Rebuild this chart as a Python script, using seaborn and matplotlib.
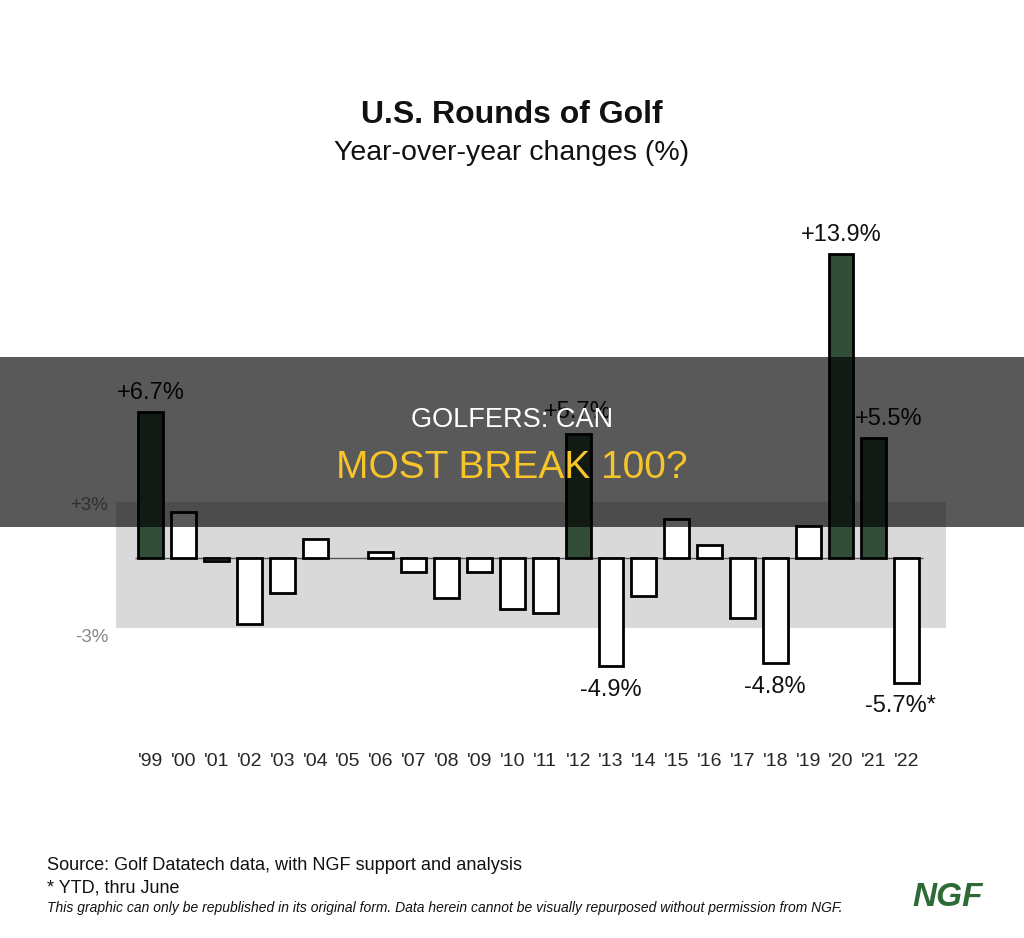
import matplotlib
matplotlib.use("Agg")
import matplotlib.pyplot as plt
import seaborn as sns
import pandas as pd
from matplotlib.patches import Rectangle

years = ["'99", "'00", "'01", "'02", "'03", "'04", "'05", "'06", "'07", "'08", "'09", "'10",
         "'11", "'12", "'13", "'14", "'15", "'16", "'17", "'18", "'19", "'20", "'21", "'22"]
change = [6.7, 2.1, -0.1, -3.0, -1.6, 0.9, 0.0, 0.3, -0.6, -1.8, -0.6, -2.3,
          -2.5, 5.7, -4.9, -1.7, 1.8, 0.6, -2.7, -4.8, 1.5, 13.9, 5.5, -5.7]
highlight = ["'99", "'12", "'20", "'21"]
labels = {"'99": "+6.7%", "'12": "+5.7%", "'20": "+13.9%", "'21": "+5.5%",
          "'13": "-4.9%", "'18": "-4.8%", "'22": "-5.7%*"}

df = pd.DataFrame({"year": years, "change": change})
green = "#2d5236"
palette = {y: (green if y in highlight else "white") for y in years}

sns.set_style("white")
plt.rcParams["font.family"] = ["Liberation Sans", "DejaVu Sans"]

fig = plt.figure(figsize=(10.24, 9.38), dpi=100)
ax = fig.add_axes([0.0993, 0.218, 0.8343, 0.560])

# grey band behind the bars
ax.fill_between([-1.05, 24.2], -3.17, 2.58, color="#d9d9d9", lw=0, zorder=0)
ax.hlines(0, -0.5, 23.5, color="#555555", lw=1, zorder=1)

sns.barplot(data=df, x="year", y="change", hue="year", palette=palette, legend=False,
            order=years, width=0.76, edgecolor="black", linewidth=2, ax=ax, zorder=2)

# no outline for a flat (0.0) year
for p in ax.patches:
    if hasattr(p, "get_height") and p.get_height() == 0:
        p.set_linewidth(0)

ax.set_xlim(-1.5, 24.5)
ax.set_ylim(-8, 16)
ax.set_yticks([])
ax.set_xlabel("")
ax.set_ylabel("")
ax.tick_params(axis="x", length=0, pad=14, labelsize=14)
for s in ax.spines.values():
    s.set_visible(False)
ax.patch.set_alpha(0)

offsets = {"'99": (0, 19), "'12": (0, 22), "'20": (0, 19), "'21": (15, 19),
           "'13": (0, -24), "'18": (0, -24), "'22": (-6, -23)}
for y, txt in labels.items():
    i = years.index(y)
    v = change[i]
    dx, dy = offsets[y]
    ax.annotate(txt, (i, v), xytext=(dx, dy), textcoords="offset pixels",
                ha="center", va="center", fontsize=17, color="#111111")

ax.text(-1.3, 2.4, "+3%", ha="right", va="center", fontsize=13.5, color="#888888")
ax.text(-1.3, -3.6, "-3%", ha="right", va="center", fontsize=13.5, color="#888888")

fig.text(0.5, 1 - 115 / 938, "U.S. Rounds of Golf", ha="center", va="center",
         fontsize=23, fontweight="bold", color="#111111")
fig.text(0.5, 1 - 153 / 938, "Year-over-year changes (%)", ha="center", va="center",
         fontsize=20.5, color="#111111")

fig.text(47 / 1024, 1 - 866 / 938, "Source: Golf Datatech data, with NGF support and analysis",
         ha="left", va="center", fontsize=13.1, color="#111111")
fig.text(47 / 1024, 1 - 888 / 938, "* YTD, thru June",
         ha="left", va="center", fontsize=13, color="#111111")
fig.text(47 / 1024, 1 - 908 / 938,
         "This graphic can only be republished in its original form. Data herein cannot be visually repurposed without permission from NGF.",
         ha="left", va="center", fontsize=10, style="italic", color="#111111")
fig.text(948 / 1024, 1 - 897 / 938, "NGF", ha="center", va="center", fontsize=24,
         fontweight="bold", style="italic", color="#2d6a35")

# dark banner overlay
fig.patches.append(Rectangle((0, 1 - 527 / 938), 1, 170 / 938, transform=fig.transFigure,
                             facecolor="black", alpha=0.65, lw=0, zorder=10))
fig.text(0.5, 1 - 420 / 938, "GOLFERS: CAN", ha="center", va="center", fontsize=19.5,
         color="white", zorder=11)
fig.text(0.5, 1 - 468 / 938, "MOST BREAK 100?", ha="center", va="center", fontsize=28,
         color="#f7c52a", zorder=11)

fig.savefig("out.png", dpi=100)
